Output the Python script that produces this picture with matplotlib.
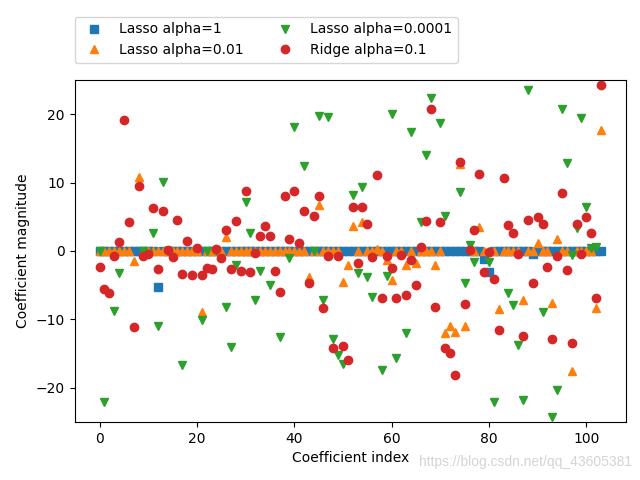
import matplotlib
matplotlib.use("Agg")
import matplotlib.pyplot as plt
import numpy as np

n_features = 104

# Lasso alpha=1: only a handful of non-zero coefficients
lasso1_idx = [12, 79, 80, 89]
lasso1_val = [-5.3, -1.2, -3.1, -0.5]

# Lasso alpha=0.01 (all other coefficients are zero)
lasso001_idx = [7, 8, 21, 26, 43, 45, 50, 51, 52, 54, 57, 59, 60, 63, 65, 69, 71, 72, 73, 74,
                75, 76, 78, 82, 87, 90, 93, 94, 97, 102, 103]
lasso001_val = [-1.4, 10.8, -8.9, 2.0, -3.8, 6.7, -4.5, -2.1, 3.7, 4.3, 0.3, -1.3, -4.2, -2.1, -1.8,
                -2.1, -12.0, -11.0, -11.8, 12.7, -10.9, 0.6, 3.5, -8.5, -7.2, 1.1, -7.6, 1.7, -17.5,
                -8.4, 17.7]

# Lasso alpha=0.0001 (only the markers that can be seen)
lasso00001_idx = [0, 1, 3, 4, 9, 10, 11, 12, 13, 14, 17, 21, 22, 24, 26, 27, 28, 30, 31, 32, 33,
                  35, 37, 39, 40, 42, 44, 45, 46, 47, 48, 49, 50, 52, 53, 54, 55, 56, 58, 59, 60,
                  61, 63, 64, 66, 67, 68, 70, 71, 74, 75, 76, 77, 80, 81, 84, 85, 86, 87, 88, 91,
                  93, 94, 95, 96, 97, 98, 99, 100, 101, 102]
lasso00001_val = [0.0, -22.1, -8.7, -3.2, 0.0, -0.4, 2.6, -10.9, 10.1, 0.0, -16.6, -10.1, 0.0, 0.0,
                  -8.2, -14.0, -2.0, 7.2, 2.6, -7.1, -2.9, -5.0, -12.6, -1.0, 18.2, 12.5, 0.0,
                  19.7, -7.2, 19.6, -12.8, -15.2, -16.5, 8.2, -3.2, 9.3, -3.8, -6.7, -17.4, -3.7,
                  20.1, -15.7, -12.0, 17.4, 4.3, 14.0, 22.3, 18.7, 5.1, 8.6, -4.7, 0.9, -1.6,
                  -1.6, -22.1, -6.2, -7.9, -13.7, -21.8, 23.5, -8.9, -24.2, -20.3, 20.8, 12.9,
                  -0.6, 3.4, 19.4, 6.5, 0.4, 0.6]

# Ridge alpha=0.1: every coefficient
ridge01 = [-2.4, -5.5, -6.2, -0.7, 1.3, 19.1, 4.3, -11.1, 9.5, -0.7,
           -0.4, 6.3, -2.6, 5.8, 0.2, -0.9, 4.6, -3.4, 1.4, -3.5,
           0.4, -3.5, -2.5, -2.7, 0.3, -1.0, 3.0, -2.6, 4.4, -2.9,
           8.8, -3.0, -0.3, 2.2, 3.6, 2.2, -2.9, -6.0, 8.0, 1.7,
           8.8, 1.1, 5.8, -4.7, 5.1, 8.0, -8.4, -0.7, -14.2, -0.8,
           -13.9, -15.9, 6.4, -1.7, 6.4, 4.0, -0.9, 11.1, -6.9, -0.7,
           -2.5, -6.8, -0.6, -6.4, -1.3, -5.0, 0.6, 4.4, 20.8, -8.2,
           4.2, -14.2, -14.9, -18.1, 13.0, -7.7, 0.1, 3.0, 11.2, -3.1,
           -0.1, -4.1, -11.5, 10.6, 3.8, 2.6, -0.5, -12.4, 4.6, -4.7,
           4.9, 3.9, -2.4, -12.8, -0.7, 8.5, -2.8, -13.5, 3.9, -0.5,
           5.0, 2.7, -6.9, 24.2]

lasso1 = np.zeros(n_features)
lasso1[lasso1_idx] = lasso1_val
lasso001 = np.zeros(n_features)
lasso001[lasso001_idx] = lasso001_val

fig = plt.figure(figsize=(6.4, 4.8), dpi=100)
ax = fig.add_axes([74.5 / 640, 58 / 480, 551.5 / 640, 342 / 480])

ax.plot(lasso1, 's', label="Lasso alpha=1")
ax.plot(lasso001, '^', label="Lasso alpha=0.01")
ax.plot(lasso00001_idx, lasso00001_val, 'v', label="Lasso alpha=0.0001")
ax.plot(ridge01, 'o', label="Ridge alpha=0.1")
ax.legend(ncol=2, loc=(0, 1.05))
ax.set_ylim(-25, 25)
ax.set_xlabel("Coefficient index")
ax.set_ylabel("Coefficient magnitude")

# blog watermark
fig.text(632 / 640, 18 / 480, "https://blog.csdn.net/qq_43605381", ha='right', va='center',
         fontsize=10, color='#d4d4d4', family='Liberation Sans')

fig.savefig("out.png", dpi=100)
